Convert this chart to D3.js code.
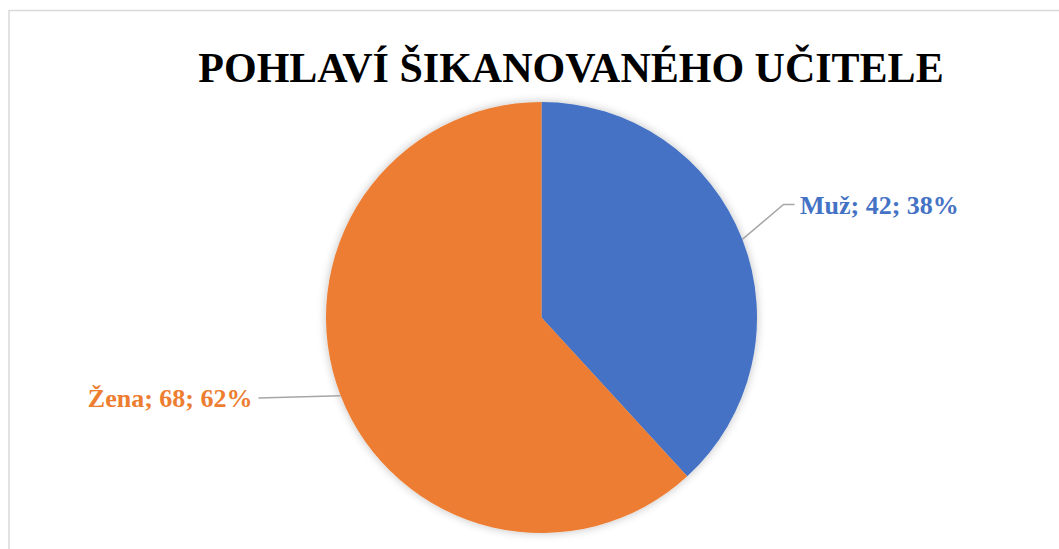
<!DOCTYPE html>
<html lang="cs">
<head>
  <meta charset="UTF-8">
  <title>Pohlaví šikanovaného učitele</title>
  <script src="https://d3js.org/d3.v7.min.js"></script>
  <style>
    body { margin: 0; padding: 0; background: #fff; }
    svg { display: block; }
    .leader { fill: none; stroke: #a6a6a6; stroke-width: 1.5px; }
  </style>
</head>
<body>
<div id="chart"></div>
<script>
const title = "POHLAVÍ ŠIKANOVANÉHO UČITELE";
const categories = ["Muž", "Žena"];
const values = [42, 68];
const colors = ["#4472C4", "#ED7D31"];

const width = 1059, height = 549;
const cx = 541.5, cy = 317.5, radius = 215.5;
const serif = "'Liberation Serif', 'Times New Roman', Times, serif";

const svg = d3.select("#chart").append("svg")
  .attr("width", width)
  .attr("height", height);

// soft shadow like the office chart
const defs = svg.append("defs");
const f = defs.append("filter").attr("id", "shadow")
  .attr("x", "-20%").attr("y", "-20%").attr("width", "140%").attr("height", "140%");
f.append("feGaussianBlur").attr("in", "SourceAlpha").attr("stdDeviation", 5).attr("result", "b");
f.append("feComponentTransfer").attr("in", "b").attr("result", "s")
  .append("feFuncA").attr("type", "linear").attr("slope", 0.25);
const m = f.append("feMerge");
m.append("feMergeNode").attr("in", "s");
m.append("feMergeNode").attr("in", "SourceGraphic");

// chart frame (runs past the right/bottom of the window)
svg.append("rect")
  .attr("x", 9).attr("y", 10.5)
  .attr("width", 1100).attr("height", 600)
  .attr("fill", "none")
  .attr("stroke", "#d9d9d9")
  .attr("stroke-width", 1.5);

svg.append("text")
  .attr("x", 571)
  .attr("y", 82)
  .attr("text-anchor", "middle")
  .attr("font-family", serif)
  .attr("font-weight", "bold")
  .attr("font-size", 42)
  .attr("fill", "#000")
  .text(title);

const data = categories.map((c, i) => ({ name: c, value: values[i], color: colors[i] }));
const total = d3.sum(values);

const pie = d3.pie().value(d => d.value).sort(null);
const arcs = pie(data);

const arc = d3.arc().innerRadius(0).outerRadius(radius);
const edge = d3.arc().innerRadius(radius).outerRadius(radius);

const g = svg.append("g").attr("transform", `translate(${cx},${cy})`);

g.append("g").attr("filter", "url(#shadow)")
  .selectAll("path")
  .data(arcs)
  .join("path")
  .attr("d", arc)
  .attr("fill", d => d.data.color);

// label placement (relative to the pie centre)
const labelPos = [
  { lx: 258.5, ly: -113, elbow: [242, -113], tail: 11, anchor: "start" },
  { lx: -289, ly: 80.5, elbow: [-283, 80.5], tail: 0, anchor: "end" }
];

arcs.forEach((a, i) => {
  const p = edge.centroid(a);
  const lp = labelPos[i];
  g.append("polyline")
    .attr("class", "leader")
    .attr("points", [p, lp.elbow, [lp.elbow[0] + lp.tail, lp.elbow[1]]].map(q => q.join(",")).join(" "));
  const pct = Math.round(a.data.value / total * 100);
  g.append("text")
    .attr("x", lp.lx)
    .attr("y", lp.ly)
    .attr("dy", "0.35em")
    .attr("text-anchor", lp.anchor)
    .attr("font-family", serif)
    .attr("font-weight", "bold")
    .attr("font-size", 26)
    .attr("fill", a.data.color)
    .text(`${a.data.name}; ${a.data.value}; ${pct}%`);
});
</script>
</body>
</html>
